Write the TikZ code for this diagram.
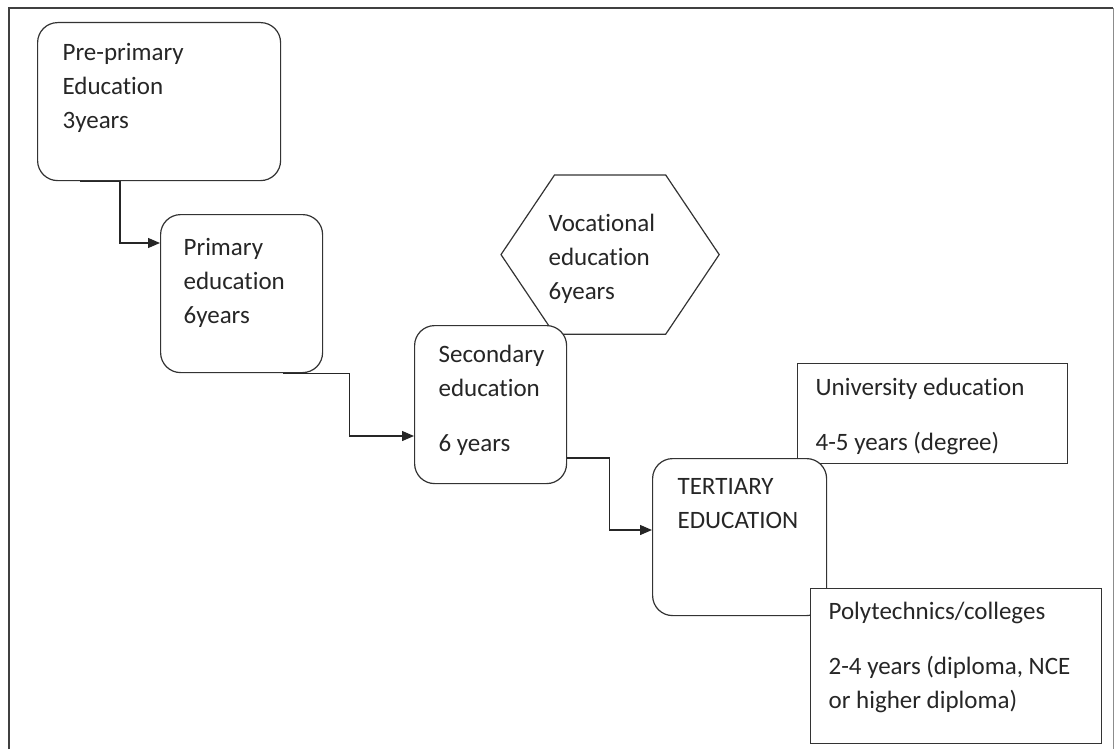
\documentclass[tikz,border=0pt]{standalone}
\usepackage{fontspec}
\setmainfont[Ligatures=CommonOff]{Carlito}
\usetikzlibrary{arrows.meta,calc}
\newcommand\edufont{\fontsize{25}{34}\selectfont\color{black!85}}

\begin{document}
\begin{tikzpicture}[x=1pt,y=-1pt,>={Triangle[length=12pt,width=10pt]},
    line width=1.2pt,
    base box/.style={draw=black!80,fill=white,anchor=north west,inner ysep=0pt,font=\edufont},
    edu box/.style={base box,rounded corners=20pt},
    level box/.style={base box},
    link/.style={->,draw=black!85,line width=1.3pt}]

  \useasboundingbox (0,0) rectangle (1115,749);
  \draw[black!75,line width=2pt] (9,749) -- (9,8) -- (1113,8);
  \draw[black!45,line width=0.8pt] (1113,8) -- (1113,749);

  \node[edu box,inner xsep=25pt,text height=38pt,text depth=120pt] (pre) at (37,22)
    {\parbox[t]{193pt}{\raggedright Pre-primary\\Education\\3years}};
  \node[edu box,inner xsep=23pt,text height=41pt,text depth=117pt] (prim) at (160,214)
    {\parbox[t]{116pt}{\raggedright Primary\\education\\6years}};

  % hexagon drawn round the node text
  \node[base box,draw=none,fill=none,inner xsep=47pt,text height=56pt,text depth=102pt] (voc) at (501,175)
    {\parbox[t]{123pt}{\raggedright Vocational\\education\\6years}};
  \draw[black!80] (voc.west) -- ($(voc.north west)+(53.5,0)$) -- ($(voc.north east)-(53.5,0)$)
    -- (voc.east) -- ($(voc.south east)-(53.5,0)$) -- ($(voc.south west)+(53.5,0)$) -- cycle;

  \node[edu box,inner xsep=24pt,text height=37pt,text depth=121pt] (sec) at (414,325)
    {\parbox[t]{104pt}{\raggedright Secondary\\education\\[21pt]6 years}};
  \node[level box,inner xsep=18pt,text height=32pt,text depth=68pt] (uni) at (797,363)
    {\parbox[t]{234pt}{\raggedright University education\\[21pt]4-5 years (degree)}};
  \node[edu box,inner xsep=25pt,text height=36pt,text depth=121pt] (ter) at (652,458)
    {\parbox[t]{124pt}{\raggedright TERTIARY\\EDUCATION}};
  \node[level box,inner xsep=18pt,text height=31pt,text depth=124pt] (poly) at (810,588)
    {\parbox[t]{255pt}{\raggedright Polytechnics/colleges\\[21pt]2-4 years (diploma, NCE\\or higher diploma)}};

  \draw[link] ([xshift=43pt]pre.south west) -- ++(40,0) |- ([yshift=-29pt]prim.north west);
  \draw[link] ([xshift=-40pt]prim.south east) -- ++(66,0) |- ([yshift=-111pt]sec.north west);
  \draw[link] ([yshift=-133pt]sec.north east) -- ++(42,0) |- ([yshift=-72pt]ter.north west);
\end{tikzpicture}
\end{document}
